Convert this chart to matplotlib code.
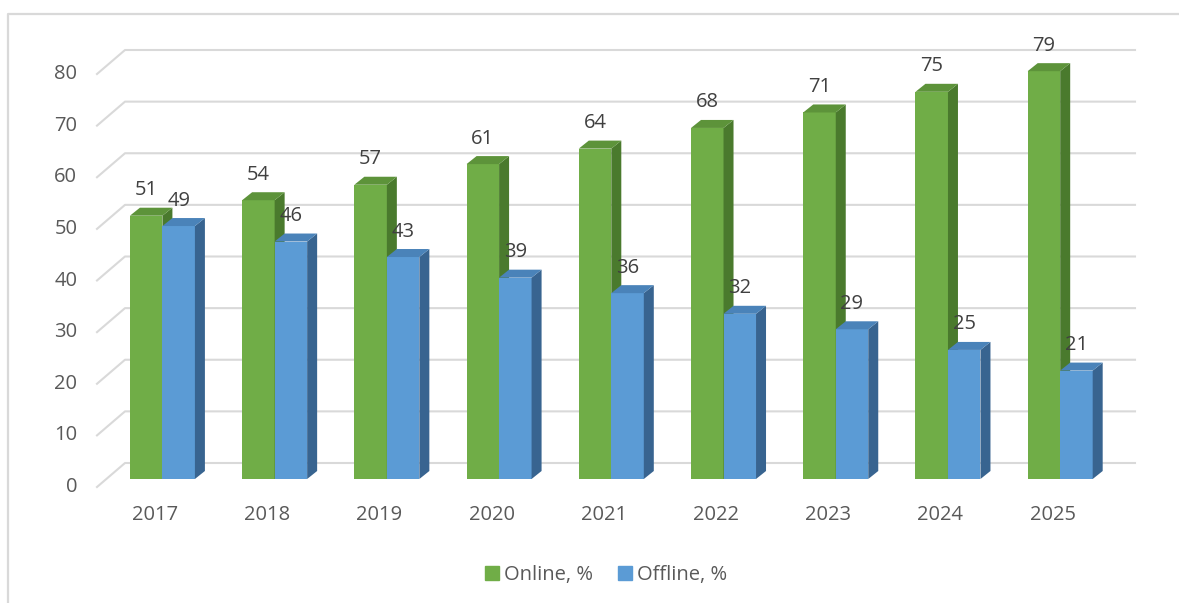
import matplotlib.pyplot as plt
from matplotlib.lines import Line2D
from matplotlib.patches import Patch, Polygon

years = ["2017", "2018", "2019", "2020", "2021", "2022", "2023", "2024", "2025"]
online = [51, 54, 57, 61, 64, 68, 71, 75, 79]
offline = [49, 46, 43, 39, 36, 32, 29, 25, 21]
y_ticks = [0, 10, 20, 30, 40, 50, 60, 70, 80]
series_names = ["Online, %", "Offline, %"]

# front / side / top shades for the pseudo-3D columns
green = ("#70AD47", "#4A7A2D", "#5D933A")
blue = ("#5B9BD5", "#386490", "#4A83B9")

W, H = 1179, 603
# bar (front-face) plane of the plot, in image pixels
AX_LEFT, AX_RIGHT, AX_BOTTOM, AX_TOP = 106.3, 1116.3, 479.0, 66.0
GRID = "#D9D9D9"
TEXT = "#595959"
VALUE_TEXT = "#404040"

plt.rcParams["font.family"] = ["Open Sans", "DejaVu Sans"]

fig = plt.figure(figsize=(W / 100, H / 100), dpi=100)
ax = fig.add_axes([
    AX_LEFT / W,
    1 - AX_BOTTOM / H,
    (AX_RIGHT - AX_LEFT) / W,
    (AX_BOTTOM - AX_TOP) / H,
])
ax.set_xlim(-0.5, len(years) - 0.5)
ax.set_ylim(0, 80)
ax.axis("off")

px_x = (AX_RIGHT - AX_LEFT) / len(years)
px_y = (AX_BOTTOM - AX_TOP) / 80


def offset(dx_px, dy_px):
    return dx_px / px_x, dy_px / px_y


back = offset(18.7, 16)      # back wall relative to bar plane
front = offset(-9.3, -8)     # front edge of the floor
depth = offset(10, 8)        # depth of a single column
bar_w = 32.5 / px_x

x_lo, x_hi = ax.get_xlim()
for v in y_ticks:
    ax.plot(
        [x_lo + front[0], x_lo + back[0], x_hi + back[0]],
        [v + front[1], v + back[1], v + back[1]],
        color=GRID, lw=1.5, clip_on=False, zorder=1,
    )
    ax.annotate(
        str(v), (x_lo, v), xytext=(-29, -8), textcoords="offset pixels",
        ha="right", va="center", fontsize=14.5, color=TEXT,
    )


def column(x0, h, shades, z):
    x1 = x0 + bar_w
    dx, dy = depth
    ax.bar(x0, h, width=bar_w, align="edge", color=shades[0], lw=0, zorder=z)
    side = Polygon([(x1, 0), (x1 + dx, dy), (x1 + dx, h + dy), (x1, h)],
                   closed=True, color=shades[1], lw=0, zorder=z, clip_on=False)
    top = Polygon([(x0, h), (x0 + dx, h + dy), (x1 + dx, h + dy), (x1, h)],
                  closed=True, color=shades[2], lw=0, zorder=z, clip_on=False)
    ax.add_patch(side)
    ax.add_patch(top)
    ax.annotate(
        str(h), (x0 + bar_w / 2, h), xytext=(0, 25.5), textcoords="offset pixels",
        ha="center", va="center", fontsize=14.5, color=VALUE_TEXT, zorder=10,
    )


for i, year in enumerate(years):
    column(i - bar_w, online[i], green, 2)
    column(i, offline[i], blue, 3)
    ax.annotate(
        year, (i, 0), xytext=(-7.5, -36), textcoords="offset pixels",
        ha="center", va="center", fontsize=14.5, color=TEXT,
    )

handles = [Patch(color=green[0]), Patch(color=blue[0])]
fig.legend(
    handles, series_names, loc="center", bbox_to_anchor=(606 / W, 1 - 575 / H),
    ncol=2, frameon=False, fontsize=14.5, labelcolor=TEXT,
    handlelength=0.7, handleheight=0.7, handletextpad=0.25, columnspacing=1.2,
)

# chart-area border (top and left edges visible)
fig.add_artist(Line2D([8 / W, 8 / W, 1], [0, 1 - 14 / H, 1 - 14 / H],
                      color=GRID, lw=1.6))

fig.savefig("out.png", dpi=100)
